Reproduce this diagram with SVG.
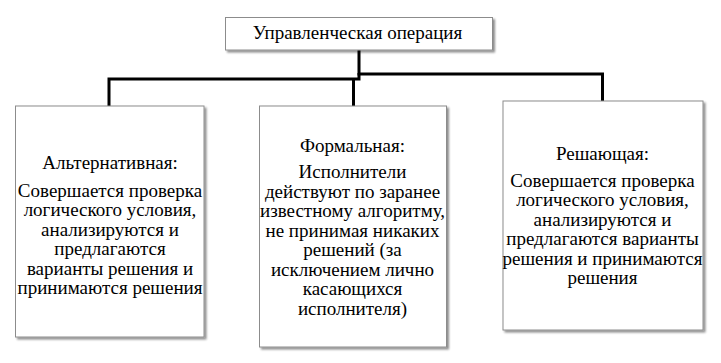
<svg xmlns="http://www.w3.org/2000/svg" width="721" height="363" viewBox="0 0 721 363">
<defs>
<filter id="sh" x="-10%" y="-10%" width="125%" height="125%">
<feGaussianBlur in="SourceAlpha" stdDeviation="1.2"/>
<feOffset dx="1.5" dy="2" result="b"/>
<feComponentTransfer><feFuncA type="linear" slope="0.45"/></feComponentTransfer>
<feMerge><feMergeNode/><feMergeNode in="SourceGraphic"/></feMerge>
</filter>
</defs>
<style>
.box{fill:#fff;stroke:#8c8c8c;stroke-width:1;filter:url(#sh)}
.c{fill:none;stroke:#000;stroke-width:3}
</style>
<rect width="721" height="363" fill="#fff"/>
<g id="connectors">
<polyline class="c" points="359,50 359,74 602.5,74 602.5,101"/>
<polyline class="c" points="359,73 359,79 109,79 109,106"/>
<line class="c" x1="353.5" y1="79" x2="353.5" y2="106"/>
</g>
<g font-family="Liberation Serif" font-size="19" text-anchor="middle" fill="#000">
<g id="top">
<rect class="box" x="225.5" y="17.5" width="267" height="32.5"/>
<text x="357.5" y="39">Управленческая операция</text>
</g>
<g id="alt">
<rect class="box" x="15.5" y="106" width="188.5" height="231"/>
<text x="110" y="169">Альтернативная:</text>
<text x="110" y="196.5">Совершается проверка</text>
<text x="110" y="216">логического условия,</text>
<text x="110" y="235.5">анализируются и</text>
<text x="110" y="255">предлагаются</text>
<text x="110" y="274.5">варианты решения и</text>
<text x="110" y="294">принимаются решения</text>
</g>
<g id="formal">
<rect class="box" x="259.5" y="106" width="187" height="241"/>
<text x="352.5" y="151.5">Формальная:</text>
<text x="352.5" y="178">Исполнители</text>
<text x="352.5" y="197.5">действуют по заранее</text>
<text x="352.5" y="217">известному алгоритму,</text>
<text x="352.5" y="236.5">не принимая никаких</text>
<text x="352.5" y="256">решений (за</text>
<text x="352.5" y="275.5">исключением лично</text>
<text x="352.5" y="295">касающихся</text>
<text x="352.5" y="314.5">исполнителя)</text>
</g>
<g id="decide">
<rect class="box" x="503" y="101" width="200" height="229"/>
<text x="602.5" y="160">Решающая:</text>
<text x="602.5" y="186.5">Совершается проверка</text>
<text x="602.5" y="206">логического условия,</text>
<text x="602.5" y="225.5">анализируются и</text>
<text x="602.5" y="245">предлагаются варианты</text>
<text x="602.5" y="264.5">решения и принимаются</text>
<text x="602.5" y="284">решения</text>
</g>
</g>
</svg>
